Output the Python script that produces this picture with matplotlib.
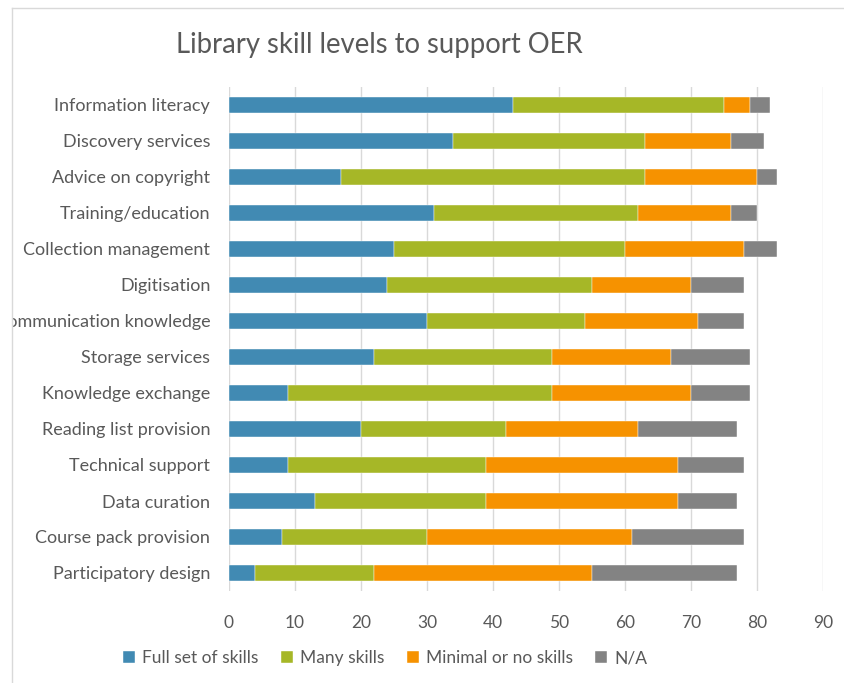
import matplotlib
matplotlib.use("Agg")
import matplotlib.pyplot as plt
import numpy as np
from matplotlib.lines import Line2D
from matplotlib.transforms import Bbox, TransformedBbox

categories = [
    "Information literacy", "Discovery services", "Advice on copyright",
    "Training/education", "Collection management", "Digitisation",
    "Scholarly communication knowledge", "Storage services", "Knowledge exchange",
    "Reading list provision", "Technical support", "Data curation",
    "Course pack provision", "Participatory design",
]
full_set = [43, 34, 17, 31, 25, 24, 30, 22, 9, 20, 9, 13, 8, 4]
many = [32, 29, 46, 31, 35, 31, 24, 27, 40, 22, 30, 26, 22, 18]
minimal = [4, 13, 17, 14, 18, 15, 17, 18, 21, 20, 29, 29, 31, 33]
na = [3, 5, 3, 4, 5, 8, 7, 12, 9, 15, 10, 9, 17, 22]
series_names = ["Full set of skills", "Many skills", "Minimal or no skills", "N/A"]
colors = ["#418AB3", "#A6B727", "#F69200", "#838383"]
xticks = list(range(0, 91, 10))
title = "Library skill levels to support OER"

plt.rcParams['font.family'] = ['Lato', 'DejaVu Sans']
txt = "#595959"

fig = plt.figure(figsize=(8.44, 6.83), dpi=100)
ax = fig.add_axes([229/844, 1-591/683, (823-229)/844, (591-87)/683])

y = np.arange(len(categories))
left = np.zeros(len(categories))
for vals, name, c in zip([full_set, many, minimal, na], series_names, colors):
    v = np.array(vals, dtype=float)
    ax.barh(y, v, left=left, height=0.43, color=c, label=name, zorder=3,
            edgecolor="white", linewidth=0.3)
    left += v

ax.set_ylim(len(categories) - 0.5, -0.5)
ax.set_xlim(0, 90)
ax.set_xticks(xticks)
ax.set_yticks(y)
ax.set_yticklabels(categories)
ax.tick_params(axis='x', length=0, labelsize=12.5, colors=txt, pad=17)
ax.tick_params(axis='y', length=0, labelsize=13, colors=txt, pad=13.5)
ax.grid(axis='x', color="#D9D9D9", linewidth=1.0, zorder=0)
for s in ax.spines.values():
    s.set_visible(False)

clipbb = TransformedBbox(Bbox([[13/844, 0], [1, 1 - 9/683]]), fig.transFigure)
for lab in ax.get_yticklabels():
    lab.set_clip_on(True)
    lab.set_clip_box(clipbb)

fig.text(176/844, 1-45/683, title, fontsize=19.8, color=txt, ha='left', va='center')

leg = fig.legend(loc='center', bbox_to_anchor=(385/844, 1-658/683), ncol=4,
                 frameon=False, fontsize=12.5, handlelength=0.7, handleheight=0.7,
                 handletextpad=0.4, columnspacing=1.3, labelcolor=txt)

fig.add_artist(Line2D([12/844, 12/844], [0, 1-8/683], transform=fig.transFigure,
                      color="#D9D9D9", linewidth=1))
fig.add_artist(Line2D([12/844, 1], [1-8/683, 1-8/683], transform=fig.transFigure,
                      color="#D9D9D9", linewidth=1))

fig.savefig("out.png", dpi=100)
